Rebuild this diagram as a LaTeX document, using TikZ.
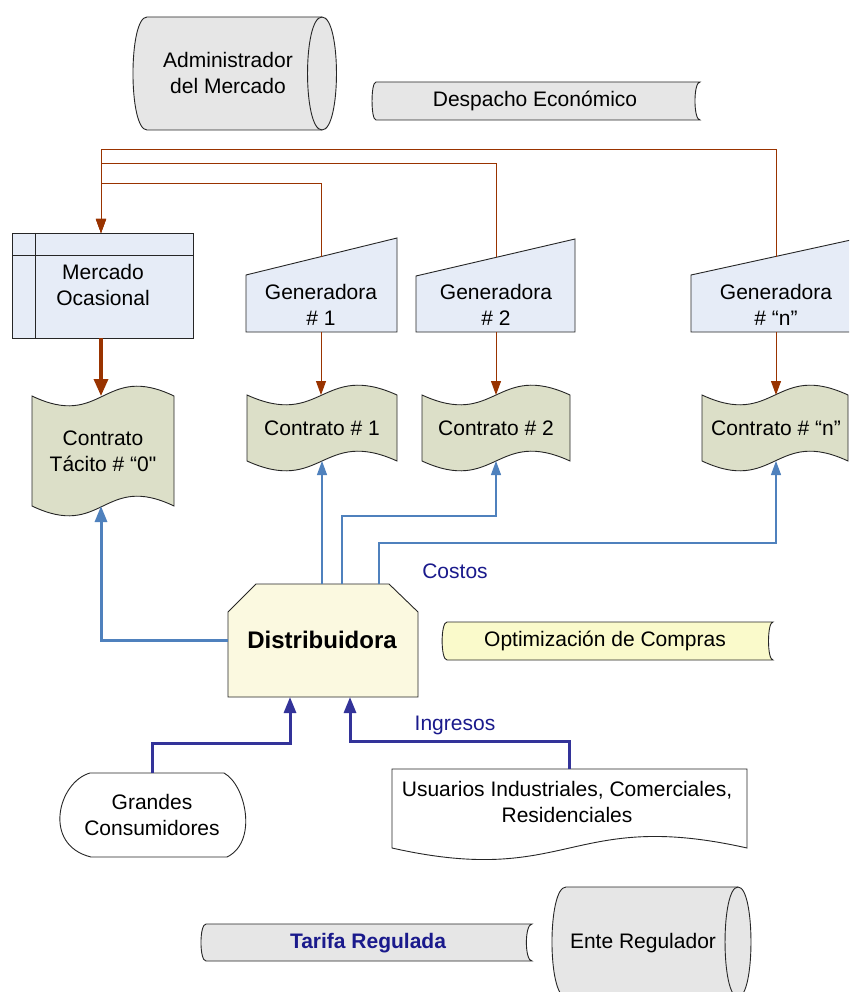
\documentclass[tikz,border=0pt]{standalone}
\usepackage{fontspec}
\setmainfont{Liberation Sans}
\newfontfamily\rawfont{Liberation Sans}
\usetikzlibrary{arrows.meta}
\definecolor{grayfill}{HTML}{E6E6E6}
\definecolor{bluefill}{HTML}{E6ECF7}
\definecolor{contfill}{HTML}{DCDFC8}
\definecolor{distfill}{HTML}{FBF9E0}
\definecolor{optfill}{HTML}{FAFACB}
\definecolor{rustc}{HTML}{993300}
\definecolor{lineblue}{HTML}{4F81BD}
\definecolor{darkblue}{HTML}{333399}
\definecolor{labelblue}{HTML}{1A1A8C}
\begin{document}
\begin{tikzpicture}[x=1pt,y=-1pt,
  font=\fontsize{21}{26}\selectfont,
  txt/.style={align=center, inner sep=0pt},
  outl/.style={draw=black!85, line width=0.9pt},
  brownthin/.style={draw=rustc!80, line width=1pt, -{Triangle[length=14pt,width=10pt]}, rustc},
  brownthick/.style={draw=rustc, line width=3.4pt, -{Triangle[length=17pt,width=14pt]}},
  bluethin/.style={draw=lineblue, line width=1.1pt, -{Triangle[length=14pt,width=10pt]}},
  bluethick/.style={draw=lineblue, line width=3pt, -{Triangle[length=16pt,width=12pt]}},
  darkthick/.style={draw=darkblue, line width=3pt, -{Triangle[length=16pt,width=12pt]}},
  lbl/.style={txt, text=labelblue}
]
\useasboundingbox (0,0) rectangle (849,992);
\fill[white] (0,0) rectangle (849,992);
\begin{scope}
\clip (0,0) rectangle (849,992);

% ---------- shapes ----------
% Administrador del Mercado (drum)
\path[outl, fill=grayfill] (147,17) -- (322,17) .. controls (341.3,17) and (341.3,130) .. (322,130)
  -- (147,130) .. controls (128.3,130) and (128.3,17) .. (147,17) -- cycle;
\draw[outl] (322,17) .. controls (302.7,17) and (302.7,130) .. (322,130);
\node[txt] (admin) at (228,73) {Administrador\\del Mercado};

% Despacho Economico (stored data)
\path[outl, fill=grayfill] (376,82) -- (700,82) .. controls (693.3,82) and (693.3,120) .. (700,120)
  -- (376,120) .. controls (370.7,120) and (370.7,82) .. (376,82) -- cycle;
\node[txt] (desp) at (535,101) {Despacho Económico};

% Mercado Ocasional
\path[outl, fill=bluefill] (12,233) rectangle (193,338);
\draw[outl] (35,233) -- (35,338) (12,255) -- (193,255);
\node[txt] (merc) at (103,285) {Mercado\\Ocasional};

% Generadoras
\path[outl, fill=bluefill] (246,275) -- (397,238) -- (397,332) -- (246,332) -- cycle;
\node[txt] (gen1) at (321,305) {Generadora\\\# 1};
\path[outl, fill=bluefill] (416,276) -- (575,239) -- (575,332) -- (416,332) -- cycle;
\node[txt] (gen2) at (496,305) {Generadora\\\# 2};
\path[outl, fill=bluefill] (691,275) -- (860,238) -- (860,332) -- (691,332) -- cycle;
\node[txt] (genn) at (776,305) {Generadora\\\# “n”};

% Contracts (tape)
\path[outl, fill=contfill] (32,396) .. controls (103,430) and (103,362) .. (174,396)
  -- (174,506) .. controls (103,472) and (103,540) .. (32,506) -- cycle;
\node[txt] (ctac) at (103,451) {Contrato\\Tácito \# “0{\rawfont"}};
\path[outl, fill=contfill] (247,395) .. controls (322,429) and (322,361) .. (397,395)
  -- (397,461) .. controls (322,427) and (322,495) .. (247,461) -- cycle;
\node[txt] (c1) at (322,428) {Contrato \# 1};
\path[outl, fill=contfill] (422,395) .. controls (496,429) and (496,361) .. (570,395)
  -- (570,461) .. controls (496,427) and (496,495) .. (422,461) -- cycle;
\node[txt] (c2) at (496,428) {Contrato \# 2};
\path[outl, fill=contfill] (702,395) .. controls (775,429) and (775,361) .. (848,395)
  -- (848,461) .. controls (775,427) and (775,495) .. (702,461) -- cycle;
\node[txt] (cn) at (776,428) {Contrato \# “n”};

% Distribuidora
\path[outl, fill=distfill] (228,612) -- (256,584) -- (389,584) -- (418,612) -- (418,697) -- (228,697) -- cycle;
\node[txt, font=\fontsize{24}{28}\selectfont\bfseries] (dist) at (322,640) {Distribuidora};

% Optimizacion de Compras
\path[outl, fill=optfill] (447,622) -- (773,622) .. controls (767,622) and (767,660) .. (773,660)
  -- (447,660) .. controls (440.5,660) and (440.5,622) .. (447,622) -- cycle;
\node[txt] (optim) at (605,641) {Optimización de Compras};

% Grandes Consumidores
\path[outl, fill=white] (90,773) -- (224,773) .. controls (246,785) and (258,842) .. (227,857)
  -- (91,857) .. controls (42,845) and (58,782) .. (90,773) -- cycle;
\node[txt] (grandes) at (152,815) {Grandes\\Consumidores};

% Usuarios (document)
\path[outl, fill=white] (392,769) -- (747,769) -- (747,848)
  .. controls (569.5,808) and (569.5,888) .. (392,848) -- cycle;
\node[txt] (usu) at (567,802) {Usuarios Industriales, Comerciales,\\Residenciales};

% Tarifa Regulada
\path[outl, fill=grayfill] (206,924) -- (532,924) .. controls (524.5,924) and (524.5,961) .. (532,961)
  -- (206,961) .. controls (199.3,961) and (199.3,924) .. (206,924) -- cycle;
\node[txt, text=labelblue, font=\fontsize{21}{26}\selectfont\bfseries] (tarifa) at (368,943) {Tarifa Regulada};

% Ente Regulador (drum)
\path[outl, fill=grayfill] (566,887) -- (738,887) .. controls (755.3,887) and (755.3,997) .. (738,997)
  -- (566,997) .. controls (547.3,997) and (547.3,887) .. (566,887) -- cycle;
\draw[outl] (738,887) .. controls (720.7,887) and (720.7,997) .. (738,997);
\node[txt] (ente) at (643,943) {Ente Regulador};

% ---------- anchor coordinates ----------
\coordinate (merc-t) at (101,233);
\coordinate (merc-b) at (101,338);
\coordinate (g1-t) at (321,256.6);
\coordinate (g2-t) at (496,257.4);
\coordinate (gn-t) at (776,257);
\coordinate (g1-b) at (321,332);
\coordinate (g2-b) at (496,332);
\coordinate (gn-b) at (776,332);
\coordinate (ctac-t) at (101,396);
\coordinate (ctac-b) at (101,506);
\coordinate (c1-t) at (321,395);
\coordinate (c2-t) at (496,395);
\coordinate (cn-t) at (776,395);
\coordinate (c1-b) at (322,461);
\coordinate (c2-b) at (496,461);
\coordinate (cn-b) at (776,461);
\coordinate (d-t1) at (322,584);
\coordinate (d-t2) at (342,584);
\coordinate (d-t3) at (379,584);
\coordinate (d-l) at (228,640);
\coordinate (d-b1) at (290,697);
\coordinate (d-b2) at (350,697);
\coordinate (gr-t) at (152,773);
\coordinate (us-t) at (569,769);

% ---------- connectors ----------
\draw[brownthin] (gn-t) -- (776,150) -- (101,150) -- (merc-t);
\draw[brownthin] (g2-t) -- (496,164) -- (101,164) -- (merc-t);
\draw[brownthin] (g1-t) -- (321,184) -- (101,184) -- (merc-t);
\draw[brownthick] (merc-b) -- (ctac-t);
\draw[brownthin] (g1-b) -- (c1-t);
\draw[brownthin] (g2-b) -- (c2-t);
\draw[brownthin] (gn-b) -- (cn-t);

\draw[bluethin] (d-t1) -- (c1-b);
\draw[bluethin] (d-t2) -- (342,516) -- (496,516) -- (c2-b);
\draw[bluethin] (d-t3) -- (379,543) -- (776,543) -- (cn-b);
\draw[bluethick] (d-l) -- (101,640) -- (ctac-b);

\draw[darkthick] (gr-t) -- (152,743) -- (290,743) -- (d-b1);
\draw[darkthick] (us-t) -- (569,741) -- (350,741) -- (d-b2);

\node[lbl] (costos) at (455,571) {Costos};
\node[lbl] (ingresos) at (455,725) {Ingresos};
\end{scope}
\end{tikzpicture}
\end{document}
